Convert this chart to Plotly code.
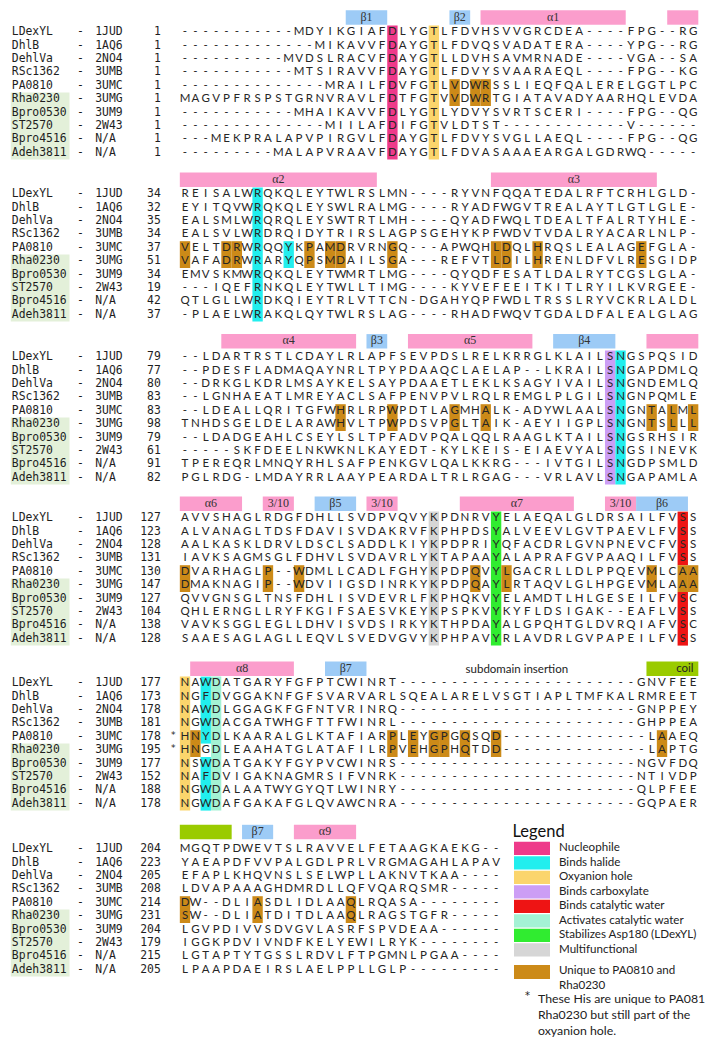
import plotly.graph_objects as go

# ---------------- data ----------------
NAMES = ["LDexYL", "DhlB", "DehlVa", "RSc1362", "PA0810", "Rha0230",
         "Bpro0530", "ST2570", "Bpro4516", "Adeh3811"]
PDB_IDS = ["1JUD", "1AQ6", "2NO4", "3UMB", "3UMC", "3UMG", "3UM9", "2W43", "N/A", "N/A"]
SHADED_NAMES = ["Rha0230", "Bpro0530", "ST2570", "Bpro4516", "Adeh3811"]
STARRED_BLOCK = 4
STARRED_NAMES = ["PA0810", "Rha0230"]

START_NUMBERS = [
    [1, 1, 1, 1, 1, 1, 1, 1, 1, 1],
    [34, 32, 35, 34, 37, 51, 34, 19, 42, 37],
    [79, 77, 80, 83, 83, 98, 79, 61, 91, 82],
    [127, 123, 128, 131, 130, 147, 127, 104, 138, 128],
    [177, 173, 178, 181, 178, 195, 177, 152, 188, 178],
    [204, 223, 205, 208, 214, 231, 204, 179, 215, 205],
]

ALIGN_1 = [
    "-----------MDYIKGIAFDLYGTLFDVHSVVGRCDEA----FPG--RG",
    "-------------MIKAVVFDAYGTLFDVQSVADATERA----YPG--RG",
    "----------MVDSLRACVFDAYGTLLDVHSAVMRNADE----VGA--SA",
    "-----------MTSIRAVVFDAYGTLFDVYSVAARAEQL----FPG--KG",
    "--------------MRAILFDVFGTLVDWRSSLIEQFQALERELGGTLPC",
    "MAGVPFRSPSTGRNVRAVLFDTFGTVVDWRTGIATAVADYAARHQLEVDA",
    "-----------MHAIKAVVFDLYGTLYDVYSVRTSCERI----FPG--QG",
    "--------------MIILAFDIFGTVLDTST------------V------",
    "---MEKPRALAPVPIRGVLFDAYGTLFDVYSVGLLAEQL----FPG--QG",
    "---------MALAPVRAAVFDAYGTLFDVASAAAEARGALGDRWQ-----",
]
ALIGN_2 = [
    "REISALWRQKQLEYTWLRSLMN----RYVNFQQATEDALRFTCRHLGLD-",
    "EYITQVWRQKQLEYSWLRALMG----RYADFWGVTREALAYTLGTLGLE-",
    "EALSMLWRQRQLEYSWTRTLMH----QYADFWQLTDEALTFALRTYHLE-",
    "EALSVLWRDRQIDYTRIRSLAGPSGEHYKPFWDVTVDALRYACARLNLP-",
    "VELTDRWRQQYKPAMDRVRNGQ---APWQHLDQLHRQSLEALAGEFGLA-",
    "VAFADRWRARYQPSMDAILSGA---REFVTLDILHRENLDFVLRESGIDP",
    "EMVSKMWRQKQLEYTWMRTLMG----QYQDFESATLDALRYTCGSLGLA-",
    "---IQEFRNKQLEYTWLLTIMG----KYVEFEEITKITLRYILKVRGEE-",
    "QTLGLLWRDKQIEYTRLVTTCN-DGAHYQPFWDLTRSSLRYVCKRLALDL",
    "-PLAELWRAKQLQYTWLRSLAG----RHADFWQVTGDALDFALEALGLAG",
]
ALIGN_3 = [
    "--LDARTRSTLCDAYLRLAPFSEVPDSLRELKRRGLKLAILSNGSPQSID",
    "--PDESFLADMAQAYNRLTPYPDAAQCLAELAP--LKRAILSNGAPDMLQ",
    "--DRKGLKDRLMSAYKELSAYPDAAETLEKLKSAGYIVAILSNGNDEMLQ",
    "--LGNHAEATLMREYACLSAFPENVPVLRQLREMGLPLGILSNGNPQMLE",
    "--LDEALLQRITGFWHRLRPWPDTLAGMHALK-ADYWLAALSNGNTALML",
    "TNHDSGELDELARAWHVLTPWPDSVPGLTAIK-AEYIIGPLSNGNTSLLL",
    "--LDADGEAHLCSEYLSLTPFADVPQALQQLRAAGLKTAILSNGSRHSIR",
    "-----SKFDEELNKWKNLKAYEDT-KYLKEIS-EIAEVYALSNGSINEVK",
    "TPEREQRLMNQYRHLSAFPENKGVLQALKKRG---IVTGILSNGDPSMLD",
    "PGLRDG-LMDAYRRLAAYPEARDALTRLRGAG---VRLAVLSNGAPAMLA",
]
ALIGN_4 = [
    "AVVSHAGLRDGFDHLLSVDPVQVYKPDNRVYELAEQALGLDRSAILFVSS",
    "ALVANAGLTDSFDAVISVDAKRVFKPHPDSYALVEEVLGVTPAEVLFVSS",
    "AALKASKLDRVLDSCLSADDLKIYKPDPRIYQFACDRLGVNPNEVCFVSS",
    "IAVKSAGMSGLFDHVLSVDAVRLYKTAPAAYALAPRAFGVPAAQILFVSS",
    "DVARHAGLP--WDMLLCADLFGHYKPDPQVYLGACRLLDLPPQEVMLCAA",
    "DMAKNAGIP--WDVIIGSDINRKYKPDPQAYLRTAQVLGLHPGEVMLAAA",
    "QVVGNSGLTNSFDHLISVDEVRLFKPHQKVYELAMDTLHLGESEILFVSC",
    "QHLERNGLLRYFKGIFSAESVKEYKPSPKVYKYFLDSIGAK--EAFLVSS",
    "VAVKSGGLEGLLDHVISVDSIRKYKTHPDAYALGPQHTGLDVRQIAFVSC",
    "SAAESAGLAGLLEQVLSVEDVGVYKPHPAVYRLAVDRLGVPAPEILFVSS",
]
ALIGN_5 = [
    "NAWDATGARYFGFPTCWINRT-----------------------GNVFEE",
    "NGFDVGGAKNFGFSVARVARLSQEALARELVSGTIAPLTMFKALRMREET",
    "NAWDLGGAGKFGFNTVRINRQ-----------------------GNPPEY",
    "NGWDACGATWHGFTTFWINRL-----------------------GHPPEA",
    "HNYDLKAARALGLKTAFIARPLEYGPGQSQD--------------LAAEQ",
    "HNGDLEAAHATGLATAFILRPVEHGPHQTDD--------------LAPTG",
    "NSWDATGAKYFGYPVCWINRS-----------------------NGVFDQ",
    "NAFDVIGAKNAGMRSIFVNRK-----------------------NTIVDP",
    "NGWDALAATWYGYQTLWINRY-----------------------QLPFEE",
    "NGWDAFGAKAFGLQVAWCNRA-----------------------GQPAER",
]
ALIGN_6 = [
    "MGQTPDWEVTSLRAVVELFETAAGKAEKG--",
    "YAEAPDFVVPALGDLPRLVRGMAGAHLAPAV",
    "EFAPLKHQVNSLSELWPLLAKNVTKAA----",
    "LDVAPAAAGHDMRDLLQFVQARQSMR-----",
    "DW--DLIASDLIDLAAQLRQASA--------",
    "SW--DLIATDITDLAAQLRAGSTGFR-----",
    "LGVPDIVVSDVGVLASRFSPVDEAA------",
    "IGGKPDVIVNDFKELYEWILRYK--------",
    "LGTAPTYTGSSLRDVLFTPGMNLPGAA----",
    "LPAAPDAEIRSLAELPPLLGLP---------",
]
ALIGNMENT = [ALIGN_1, ALIGN_2, ALIGN_3, ALIGN_4, ALIGN_5, ALIGN_6]

ALL_ROWS = list(range(10))
UNIQUE_ROWS = [4, 5]
# (category, alignment column, rows)
HIGHLIGHTS = [
    [("nuc", 21, ALL_ROWS), ("oxy", 25, ALL_ROWS)]
    + [("uniq", c, UNIQUE_ROWS) for c in (27, 29, 30)],
    [("hal", 8, ALL_ROWS), ("hal", 11, UNIQUE_ROWS)]
    + [("uniq", c, UNIQUE_ROWS) for c in (1, 5, 6, 13, 15, 16, 21, 31, 32, 35, 45)],
    [("carb", 42, ALL_ROWS), ("hal", 43, ALL_ROWS)]
    + [("uniq", c, UNIQUE_ROWS) for c in (16, 21, 27, 30, 46, 48, 50)],
    [("multi", 25, ALL_ROWS), ("stab", 31, ALL_ROWS), ("catw", 49, [0, 1, 2, 3, 6, 7, 8, 9])]
    + [("uniq", c, UNIQUE_ROWS) for c in (1, 9, 12, 29, 32, 46, 49, 50)],
    [("oxy", 1, ALL_ROWS), ("hal", 3, [0, 1, 2, 3, 4, 6, 7, 8, 9]), ("act", 4, ALL_ROWS)]
    + [("uniq", c, UNIQUE_ROWS) for c in (2, 21, 23, 25, 26, 28, 31, 47)],
    [("uniq", c, UNIQUE_ROWS) for c in (1, 8, 17)],
]

# secondary structure: (kind, first column, last column, label)
SECONDARY = [
    [("strand", 17, 20, "β1"), ("strand", 27, 28, "β2"), ("helix", 30, 43, "α1"), ("helix", 48, 50, "")],
    [("helix", 1, 19, "α2"), ("helix", 31, 46, "α3")],
    [("helix", 5, 17, "α4"), ("strand", 19, 20, "β3"), ("helix", 23, 34, "α5"),
     ("strand", 37, 42, "β4"), ("helix", 46, 50, "")],
    [("helix", 1, 6, "α6"), ("helix", 9, 11, "3/10"), ("strand", 14, 17, "β5"),
     ("helix", 19, 21, "3/10"), ("helix", 28, 38, "α7"), ("helix", 42, 44, "3/10"),
     ("strand", 45, 49, "β6")],
    [("helix", 2, 11, "α8"), ("strand", 15, 18, "β7"), ("coil", 46, 50, "")],
    [("coil", 1, 5, ""), ("strand", 7, 9, "β7"), ("helix", 12, 17, "α9")],
]
INSERTION_LABEL = "subdomain insertion"
COIL_LABEL = "coil"

LEGEND_TITLE = "Legend"
LEGEND_KEYS = ["nuc", "hal", "oxy", "carb", "catw", "act", "stab", "multi"]
LEGEND_LABELS = ["Nucleophile", "Binds halide", "Oxyanion hole", "Binds carboxylate",
                 "Binds catalytic water", "Activates catalytic water",
                 "Stabilizes Asp180 (LDexYL)", "Multifunctional"]
UNIQUE_LABEL = "Unique to PA0810 and<br>Rha0230"
FOOTNOTE = "These His are unique to PA0810 and<br>Rha0230 but still part of the<br>oxyanion hole."

# ---------------- styles ----------------
COLORS = {
    "nuc": "#ee3a8a", "hal": "#22eeee", "oxy": "#fbd56c", "carb": "#cc9ef5",
    "catw": "#ee1414", "act": "#a4f2d4", "stab": "#30ec30", "multi": "#d6d6d6",
    "uniq": "#cc8a18",
}
SS_COLORS = {"helix": "#fb9dcc", "strand": "#9dcbf6", "coil": "#9acb00"}

X0, PITCH = 185.0, 10.37          # pixel centre of column 1, column pitch
ROW0_Y = [32.3, 194.3, 357.3, 518.3, 683.3, 849.3]
HEADER_Y = [17.5, 179.7, 341.3, 503.7, 668.8, 832.0]
ROW_PITCH = 13.4
HALF_ROW = 6.7
W, H = 713, 1050
PAGE_MARGIN = 8                    # default <body> margin of the html page
FIG_W, FIG_H = W - PAGE_MARGIN, H - 2 * PAGE_MARGIN


def px2col(p):
    return 1 + (p - X0) / PITCH


def row_y(b, r):
    return ROW0_Y[b] + r * ROW_PITCH


SEQ_FONT = dict(family="Lato, Open Sans, sans-serif", size=11.5, color="#262626")
LAB_FONT = dict(family="DejaVu Sans Mono, monospace", size=11.4, color="#1e1e1e")
SS_FONT = dict(family="Liberation Serif, serif", size=12, color="#333333")
LEG_FONT = dict(family="Lato, Open Sans, sans-serif", size=11.6, color="#222222")
NOTE_FONT = dict(family="Lato, Open Sans, sans-serif", size=12.3, color="#222222")

fig = go.Figure()
shapes = []


def rect(x0, x1, y0, y1, color):
    shapes.append(dict(type="rect", xref="x", yref="y", x0=x0, x1=x1, y0=y0, y1=y1,
                       fillcolor=color, line=dict(width=0), layer="below"))


def add_text(xs, ys, texts, font, pos="middle center"):
    fig.add_trace(go.Scatter(x=xs, y=ys, text=texts, mode="text", textfont=font,
                             textposition=pos, hoverinfo="skip", showlegend=False))


# name shading
for b in range(len(ALIGNMENT)):
    rows = [NAMES.index(n) for n in SHADED_NAMES]
    rect(px2col(10.8), px2col(69.5), row_y(b, min(rows)) - HALF_ROW,
         row_y(b, max(rows)) + HALF_ROW, "#e3f0d9")

# residue highlights (merge consecutive rows)
for b, items in enumerate(HIGHLIGHTS):
    for cat, col, rows in items:
        rows = sorted(rows)
        runs, start, prev = [], rows[0], rows[0]
        for r in rows[1:]:
            if r == prev + 1:
                prev = r
            else:
                runs.append((start, prev))
                start = prev = r
        runs.append((start, prev))
        for r0, r1 in runs:
            rect(col - 0.5, col + 0.5, row_y(b, r0) - HALF_ROW, row_y(b, r1) + HALF_ROW,
                 COLORS[cat])

# secondary structure bars
ss_x, ss_y, ss_t = [], [], []
for b, items in enumerate(SECONDARY):
    for kind, c0, c1, lab in items:
        rect(c0 - 0.5, c1 + 0.5, HEADER_Y[b] - 7.2, HEADER_Y[b] + 7.2, SS_COLORS[kind])
        if lab:
            ss_x.append((c0 + c1) / 2)
            ss_y.append(HEADER_Y[b])
            ss_t.append(lab)
add_text(ss_x, ss_y, ss_t, SS_FONT)

# "subdomain insertion" and "coil" labels
add_text([33, 49.2], [HEADER_Y[4] + 1, HEADER_Y[4]], [INSERTION_LABEL, COIL_LABEL],
         dict(family="Lato, sans-serif", size=11.5, color="#222"))

# sequence letters
sx, sy, st = [], [], []
for b, block in enumerate(ALIGNMENT):
    for r, seq in enumerate(block):
        for i, ch in enumerate(seq):
            sx.append(i + 1)
            sy.append(row_y(b, r))
            st.append(ch)
add_text(sx, sy, st, SEQ_FONT)

# row labels
nx, ny, nt = [], [], []
dx, dy, dt = [], [], []
px_, py_, pt = [], [], []
mx, my, mt = [], [], []
for b in range(len(ALIGNMENT)):
    for r in range(len(NAMES)):
        y = row_y(b, r)
        nx.append(px2col(11.8)); ny.append(y); nt.append(NAMES[r])
        dx.append(px2col(80.5)); dy.append(y); dt.append("-")
        px_.append(px2col(95.2)); py_.append(y); pt.append(PDB_IDS[r])
        mx.append(px2col(160.8)); my.append(y); mt.append(str(START_NUMBERS[b][r]))
add_text(nx, ny, nt, LAB_FONT, "middle right")
add_text(dx, dy, dt, LAB_FONT, "middle center")
add_text(px_, py_, pt, LAB_FONT, "middle right")
add_text(mx, my, mt, LAB_FONT, "middle left")

# asterisks
ax_ = [px2col(173.3)] * len(STARRED_NAMES)
ay_ = [row_y(STARRED_BLOCK, NAMES.index(n)) - 1.5 for n in STARRED_NAMES]
add_text(ax_, ay_, ["*"] * len(ax_), dict(family="DejaVu Sans", size=9, color="#222"))

# legend
LEG_X0, LEG_X1, LEG_TX = 514.0, 550.0, 559.0
LEG_Y0, LEG_DY = 848.3, 14.5
lx, ly, lt = [], [], []
for i, (k, lab) in enumerate(zip(LEGEND_KEYS, LEGEND_LABELS)):
    y = LEG_Y0 + i * LEG_DY
    rect(px2col(LEG_X0), px2col(LEG_X1), y - 6.6, y + 6.6, COLORS[k])
    lx.append(px2col(LEG_TX)); ly.append(y); lt.append(lab)
add_text(lx, ly, lt, LEG_FONT, "middle right")
uy = 972.0
rect(px2col(LEG_X0), px2col(LEG_X1), uy - 7, uy + 7, COLORS["uniq"])
add_text([px2col(LEG_TX)], [978.5], [UNIQUE_LABEL], LEG_FONT, "middle right")
add_text([px2col(527.5)], [996.5], ["*"], dict(family="DejaVu Sans", size=10, color="#222"))
add_text([px2col(538)], [1016], [FOOTNOTE], NOTE_FONT, "middle right")
add_text([px2col(512.5)], [832.7], [LEGEND_TITLE],
         dict(family="Lato, sans-serif", size=16.5, color="#111"), "middle right")

# the page puts the figure PAGE_MARGIN px in from the top-left corner,
# so the axes are framed to show the reference area from that point on
fig.update_layout(
    width=FIG_W, height=FIG_H, margin=dict(l=0, r=0, t=0, b=0),
    paper_bgcolor="white", plot_bgcolor="white", shapes=shapes,
    xaxis=dict(range=[px2col(PAGE_MARGIN), px2col(PAGE_MARGIN + FIG_W)],
               visible=False, fixedrange=True),
    yaxis=dict(range=[PAGE_MARGIN + FIG_H, PAGE_MARGIN], visible=False, fixedrange=True),
    showlegend=False,
)
fig.write_html("out.html")
